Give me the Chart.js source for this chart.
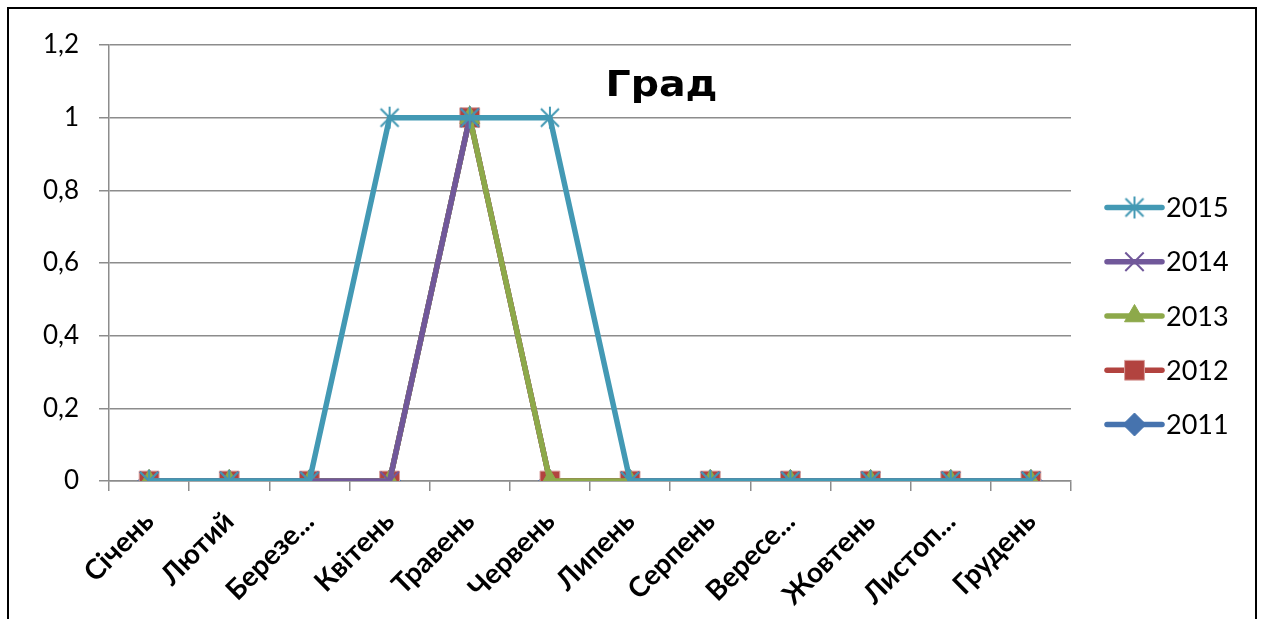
<!DOCTYPE html>
<html>
<head>
<meta charset="utf-8">
<script src="https://cdn.jsdelivr.net/npm/chart.js@4/dist/chart.umd.min.js"></script>
<style>
  html, body { margin: 0; padding: 0; background: #fff; overflow: hidden; }
  #wrap { position: relative; width: 1263px; height: 619px; }
  #frame { position: absolute; left: 7px; top: 7px; width: 1246px; height: 640px;
           border: 2px solid #000; pointer-events: none; }
  canvas { position: absolute; left: 0; top: 0; }
</style>
</head>
<body>
<div id="wrap">
  <canvas id="c" width="1263" height="619"></canvas>
  <div id="frame"></div>
</div>
<script>
// Months (long names are shortened the way the axis shows them)
const months = ['Січень', 'Лютий', 'Березе...', 'Квітень', 'Травень', 'Червень',
                'Липень', 'Серпень', 'Вересе...', 'Жовтень', 'Листоп...', 'Грудень'];

// Days with hail per month, by year
const hail2015 = [0, 0, 0, 1, 1, 1, 0, 0, 0, 0, 0, 0];
const hail2014 = [0, 0, 0, 0, 1, null, 0, 0, 0, 0, 0, 0];
const hail2013 = [0, 0, 0, 0, 1, 0, 0, 0, 0, 0, 0, 0];
const hail2012 = [0, 0, 0, 0, 1, 0, 0, 0, 0, 0, 0, 0];
const hail2011 = [0, 0, 0, 0, 1, 0, 0, 0, 0, 0, 0, 0];

const yearLabels = ['2015', '2014', '2013', '2012', '2011'];
const yTicks = [0, 0.2, 0.4, 0.6, 0.8, 1, 1.2];

const chartTitle = 'Град';

const COLORS = {
  c2015: '#4399B4',
  c2014: '#71589A',
  c2013: '#8DA94A',
  c2012: '#B2433F',
  c2011: '#4673AE'
};

// Asterisk marker: an X crossed by a vertical stroke
function makeStar(color) {
  const s = 24, c = document.createElement('canvas');
  c.width = s; c.height = s;
  const g = c.getContext('2d');
  g.strokeStyle = color; g.lineWidth = 2; g.lineCap = 'butt';
  g.beginPath();
  g.moveTo(3, 3); g.lineTo(21, 21);
  g.moveTo(21, 3); g.lineTo(3, 21);
  g.moveTo(12, 1); g.lineTo(12, 23);
  g.stroke();
  return c;
}
const starMarker = makeStar(COLORS.c2015);

function series(label, data, color, style, radius, border, borderWidth) {
  return {
    label, data,
    borderColor: color,
    backgroundColor: color,
    borderWidth: 5.5,
    pointStyle: style,
    pointRadius: radius,
    pointHoverRadius: radius,
    pointBackgroundColor: color,
    pointBorderColor: border,
    pointBorderWidth: borderWidth,
    tension: 0,
    spanGaps: false
  };
}

const datasets = [
  series(yearLabels[0], hail2015, COLORS.c2015, starMarker, 12, COLORS.c2015, 2),
  series(yearLabels[1], hail2014, COLORS.c2014, 'crossRot', 13, COLORS.c2014, 2),
  series(yearLabels[2], hail2013, COLORS.c2013, 'triangle', 11.5, COLORS.c2013, 1),
  series(yearLabels[3], hail2012, COLORS.c2012, 'rect', 14, '#D9A09E', 1),
  series(yearLabels[4], hail2011, COLORS.c2011, 'rectRot', 11.5, COLORS.c2011, 1)
];

const FONT = 'Lato, "Open Sans", "DejaVu Sans", sans-serif';
const GRID = '#8C8C8C';

// Title drawn over the plot area, widened to the title box width
const titlePlugin = {
  id: 'plotTitle',
  afterDraw(chart) {
    const ctx = chart.ctx;
    const boxWidth = 112;
    ctx.save();
    ctx.font = 'bold 35px "DejaVu Sans", ' + FONT;
    ctx.fillStyle = '#000';
    ctx.textAlign = 'center';
    ctx.textBaseline = 'alphabetic';
    const w = ctx.measureText(chartTitle).width;
    ctx.translate(chart.width / 2 + 30, chart.chartArea.top + 51);
    ctx.scale(boxWidth / w, 1);
    ctx.fillText(chartTitle, 0, 0);
    ctx.restore();
  }
};

// Legend on the right: line sample with the series marker, then the year
const legendPlugin = {
  id: 'lineLegend',
  afterDraw(chart) {
    const ctx = chart.ctx;
    const area = chart.chartArea;
    const step = 54.25;
    const n = chart.data.datasets.length;
    const cy = chart.height / 2 + 6.5;
    const x0 = area.right + 36, x1 = x0 + 55;
    ctx.save();
    chart.data.datasets.forEach((ds, i) => {
      const y = cy + (i - (n - 1) / 2) * step;
      ctx.strokeStyle = ds.borderColor;
      ctx.lineWidth = 5.5;
      ctx.lineCap = 'round';
      ctx.beginPath();
      ctx.moveTo(x0, y); ctx.lineTo(x1, y);
      ctx.stroke();
      ctx.lineCap = 'butt';
      ctx.fillStyle = ds.pointBackgroundColor;
      ctx.strokeStyle = ds.pointBorderColor;
      ctx.lineWidth = ds.pointBorderWidth;
      Chart.helpers.drawPoint(ctx, {
        pointStyle: ds.pointStyle, radius: ds.pointRadius,
        rotation: 0, borderWidth: ds.pointBorderWidth
      }, (x0 + x1) / 2, y);
      ctx.fillStyle = '#000';
      ctx.font = '27px ' + FONT;
      ctx.textAlign = 'left';
      ctx.textBaseline = 'middle';
      ctx.fillText(ds.label, x1 + 4, y + 1);
    });
    ctx.restore();
  }
};

new Chart(document.getElementById('c'), {
  type: 'line',
  data: { labels: months, datasets },
  options: {
    responsive: false,
    animation: false,
    events: [],
    layout: { padding: { left: 8, top: 45, right: 192, bottom: 0 } },
    plugins: {
      legend: { display: false },
      tooltip: { enabled: false },
      title: { display: false }
    },
    scales: {
      x: {
        offset: true,
        grid: {
          offset: true,
          drawOnChartArea: false,
          drawTicks: true,
          tickLength: 10,
          color: GRID,
          lineWidth: 1.5
        },
        border: { display: true, color: GRID, width: 1.5 },
        ticks: {
          autoSkip: false,
          minRotation: 45,
          maxRotation: 45,
          padding: 14,
          color: '#000',
          font: { family: FONT, size: 28, weight: 'bold' }
        },
        afterFit(scale) { scale.height = 138; }
      },
      y: {
        min: 0,
        max: 1.2,
        afterBuildTicks(scale) { scale.ticks = yTicks.map(v => ({ value: v })); },
        grid: {
          drawOnChartArea: true,
          drawTicks: true,
          tickLength: 10,
          color: GRID,
          lineWidth: 1.5
        },
        border: { display: true, color: GRID, width: 1.5 },
        ticks: {
          padding: 20,
          color: '#000',
          font: { family: FONT, size: 26 },
          callback(v) { return String(Math.round(v * 10) / 10).replace('.', ','); }
        },
        afterFit(scale) { scale.width = 101; }
      }
    }
  },
  plugins: [titlePlugin, legendPlugin]
});
</script>
</body>
</html>
